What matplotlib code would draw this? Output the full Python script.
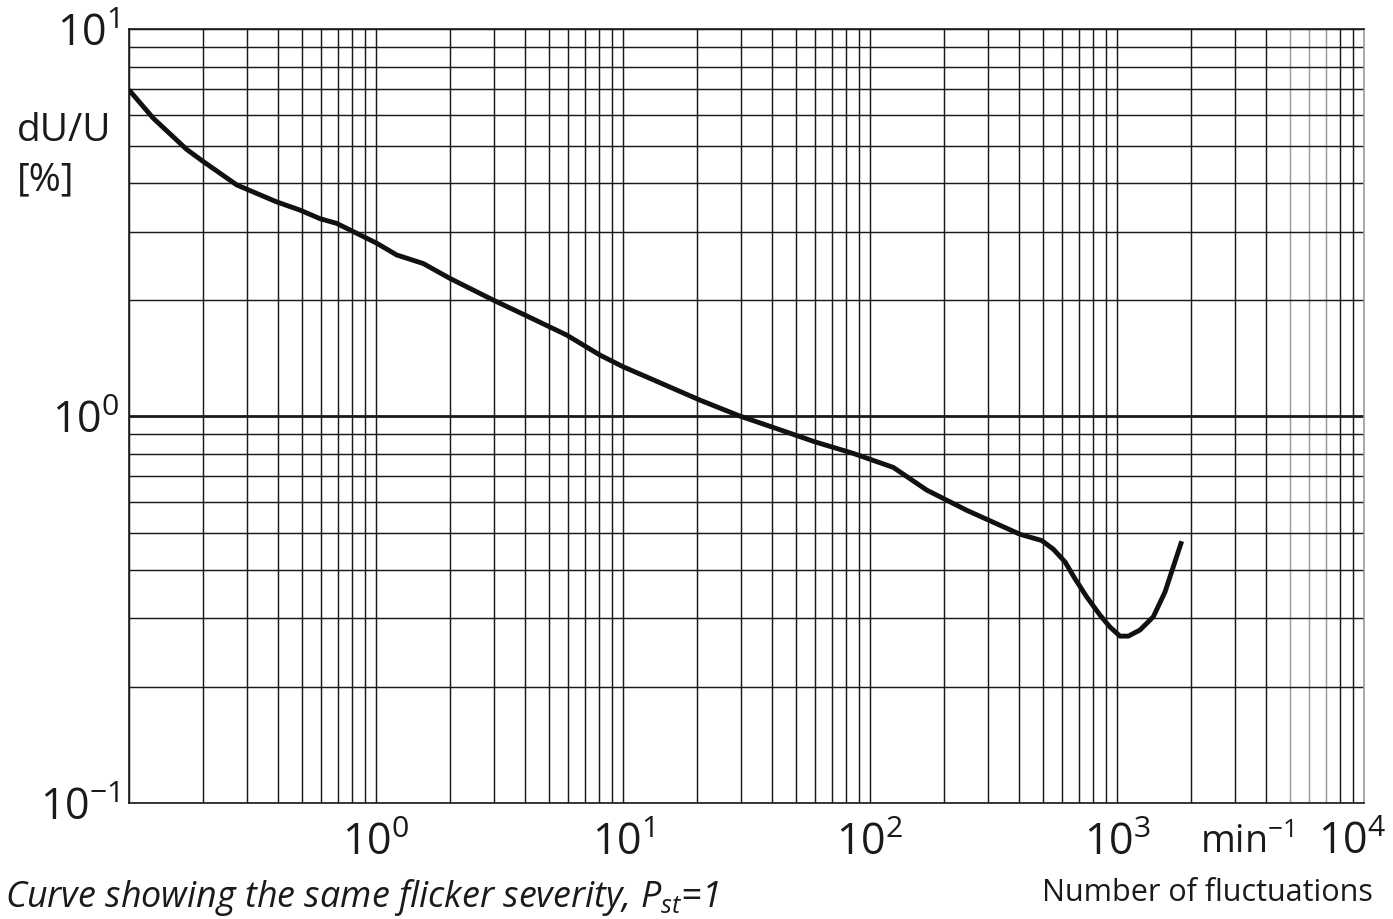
import matplotlib
matplotlib.use("Agg")
import matplotlib.pyplot as plt
from matplotlib import font_manager

# ---------------- data ----------------
freq = [0.1, 0.1254, 0.1713, 0.2, 0.273, 0.396, 0.492, 0.593, 0.693, 0.809,
        1.006, 1.213, 1.554, 1.993, 2.985, 4.01, 5.92, 8.07, 10.03, 12.86,
        20.5, 29.8, 40.0, 59.9, 85.6, 124.3, 169.7, 246.4, 404.9, 495.6,
        552.3, 616.0, 676.0, 754.0, 853.6, 936.9, 1028.0, 1111.0, 1239.0,
        1403.0, 1564.0, 1690.0, 1828.0]
du_u = [6.97, 5.89, 4.89, 4.55, 3.96, 3.58, 3.41, 3.24, 3.15, 3.00,
        2.80, 2.61, 2.48, 2.27, 1.995, 1.825, 1.62, 1.438, 1.341, 1.252,
        1.10, 1.0, 0.938, 0.858, 0.801, 0.737, 0.644, 0.571, 0.495, 0.477,
        0.453, 0.420, 0.380, 0.341, 0.306, 0.285, 0.270, 0.270, 0.280,
        0.303, 0.351, 0.408, 0.475]

x_ticks = [1, 10, 100, 1000]
x_tick_labels = [r"$\mathregular{10^{0}}$", r"$\mathregular{10^{1}}$",
                 r"$\mathregular{10^{2}}$", r"$\mathregular{10^{3}}$"]
y_ticks = [0.1, 1, 10]
y_tick_labels = [r"$\mathregular{10^{-1}}$", r"$\mathregular{10^{0}}$",
                 r"$\mathregular{10^{1}}$"]

# ---------------- fonts ----------------
avail = {f.name for f in font_manager.fontManager.ttflist}
if "Liberation Sans Narrow" in avail:
    FONT = "Liberation Sans Narrow"
    k = 1.2
else:
    FONT = "Open Sans"
    k = 1.0
plt.rcParams["font.family"] = [FONT, "DejaVu Sans"]
plt.rcParams["mathtext.fontset"] = "custom"
plt.rcParams["mathtext.rm"] = FONT
plt.rcParams["mathtext.it"] = FONT + ":italic"
plt.rcParams["mathtext.bf"] = FONT + ":bold"

TXT = "#1a1a1a"
TICK_FS = 31 * k

fig = plt.figure(figsize=(13.93, 9.19), dpi=100)
ax = fig.add_axes([129 / 1393, 1 - 803 / 919, (1364 - 129) / 1393, (803 - 29.3) / 919])
ax.set_xscale("log")
ax.set_yscale("log")
ax.set_xlim(0.1, 1e4)
ax.set_ylim(0.1, 10)

# grid lines
for dec in [0.1, 1, 10, 100, 1000]:
    for m in range(1, 10):
        v = dec * m
        col = "#1a1a1a"
        if dec == 1000 and m in (5, 6, 7):
            col = "#9a9a9a"
        ax.axvline(v, color=col, lw=1.05, zorder=1)
for dec in [0.1, 1]:
    for m in range(1, 10):
        v = dec * m
        ax.axhline(v, color="#1a1a1a", lw=2.0 if v == 1 else 1.05, zorder=1)
ax.axhline(10, color="#1a1a1a", lw=1.05, zorder=1)

ax.plot(freq, du_u, color="#111111", lw=3.5, solid_capstyle="butt",
        solid_joinstyle="round", zorder=3)

for s in ["left", "bottom", "top"]:
    ax.spines[s].set_color("#1a1a1a")
    ax.spines[s].set_linewidth(1.2)
ax.spines["right"].set_color("#9a9a9a")
ax.spines["right"].set_linewidth(1.2)

ax.set_xticks(x_ticks)
ax.set_xticklabels(x_tick_labels)
ax.set_yticks(y_ticks)
ax.set_yticklabels(y_tick_labels)
ax.minorticks_off()
ax.tick_params(axis="both", length=0, labelsize=TICK_FS, colors=TXT)
ax.tick_params(axis="x", pad=13)
ax.tick_params(axis="y", pad=7)

# extra x labels
ax.text(1.018, -0.052, r"$\mathregular{10^{4}}$", transform=ax.transAxes,
        ha="right", va="center", fontsize=TICK_FS, color=TXT)
ax.text(0.905, -0.052, r"min$\mathregular{^{-1}}$", transform=ax.transAxes,
        ha="center", va="center", fontsize=27 * k, color=TXT)

fig.text(1373 / 1393, 1 - 893 / 919, "Number of fluctuations", ha="right",
         va="center", fontsize=22 * k, color=TXT)
fig.text(5 / 1393, 1 - 897 / 919,
         r"Curve showing the same flicker severity, $P_{st}$=1",
         ha="left", va="center", fontsize=25.8 * k, style="italic", color=TXT)
fig.text(17 / 1393, 1 - 131 / 919, "dU/U", ha="left", va="center",
         fontsize=28 * k, color=TXT)
fig.text(17 / 1393, 1 - 180 / 919, "[%]", ha="left", va="center",
         fontsize=28 * k, color=TXT)

fig.savefig("out.png", dpi=100, facecolor="white")
